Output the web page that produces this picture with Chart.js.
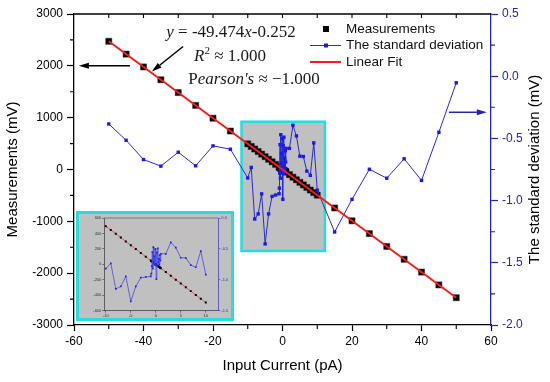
<!DOCTYPE html>
<html>
<head>
<meta charset="utf-8">
<script src="https://cdn.jsdelivr.net/npm/chart.js@4"></script>
<style>
  html, body { margin: 0; padding: 0; background: #fff; }
  #wrap { position: relative; width: 550px; height: 382px; }
  #main { position: absolute; left: 0; top: 0; }
  #inset { position: absolute; left: 76px; top: 211px; width: 158px; height: 110px; box-sizing: border-box; border: 3px solid #22dede; background: #c0c0c0; }
  #insetChart { display: block; }
</style>
</head>
<body>
<div id="wrap">
  <canvas id="main" width="550" height="382"></canvas>
  <div id="inset"><canvas id="insetChart" width="152" height="104"></canvas></div>
</div>
<script>
// input current (pA)
const currentPA = [-50, -45, -40, -35, -30, -25, -20, -15,
  -10, -9, -8, -7, -6, -5, -4, -3, -2, -1,
  -0.9, -0.8, -0.7, -0.6, -0.5, -0.4, -0.3, -0.2, -0.1, 0,
  0.1, 0.2, 0.3, 0.4, 0.5, 0.6, 0.7, 0.8, 0.9,
  1, 2, 3, 4, 5, 6, 7, 8, 9, 10,
  15, 20, 25, 30, 35, 40, 45, 50];

// measurements (mV)
const measurementsMV = [2473.4, 2226.1, 1978.7, 1731.3, 1484.0, 1236.6, 989.2, 741.9,
  494.5, 445.0, 395.5, 346.1, 296.6, 247.1, 197.6, 148.2, 98.7, 49.2,
  44.3, 39.3, 34.4, 29.4, 24.5, 19.5, 14.6, 9.6, 4.7, -0.3,
  -5.2, -10.1, -15.1, -20.0, -25.0, -29.9, -34.9, -39.8, -44.8,
  -49.7, -99.2, -148.7, -198.1, -247.6, -297.1, -346.6, -396.0, -445.5, -495.0,
  -742.4, -989.7, -1237.1, -1484.5, -1731.8, -1979.2, -2226.6, -2473.9];

// standard deviation (mV), right axis
const stdDevMV = [-0.384, -0.515, -0.670, -0.723, -0.611, -0.720, -0.560, -0.587,
  -0.818, -0.733, -1.148, -1.107, -0.946, -1.348, -1.107, -0.966, -0.955, -0.945,
  -0.90, -0.78, -0.55, -0.82, -0.47, -0.70, -0.62, -0.76, -0.50, -0.74,
  -0.99, -0.56, -0.78, -0.49, -0.72, -0.66, -0.75, -0.60, -0.69,
  -0.58, -0.58, -0.395, -0.48, -0.643, -0.646, -0.763, -0.797, -0.536, -0.916,
  -1.252, -0.990, -0.748, -0.820, -0.664, -0.838, -0.451, -0.053];

// linear fit y = -49.474x - 0.252
const fitX = [-50, 50];
const fitY = [2473.4, -2473.9];
const insetFitX = [-10, 10];
const insetFitY = [494.5, -495.0];

// zoomed region marked on the main chart
const zoomBoxX = [-11.8, 12.2];
const zoomBoxY = [922, -1572];

const SANS = "'Liberation Sans', Arial, sans-serif";
const SERIF = "'Liberation Serif', 'Times New Roman', serif";
const BLUE = '#2a2ad2';
const AXIS_BLUE = '#2323b8';
const CYAN = '#22dede';

const pts = (xs, ys) => xs.map((x, i) => ({x: x, y: ys[i]}));
const plain = v => String(v);

function arrow(ctx, x1, y1, x2, y2, color) {
  const ang = Math.atan2(y2 - y1, x2 - x1);
  const hl = 10, hw = 3;
  const bx = x2 - hl * Math.cos(ang), by = y2 - hl * Math.sin(ang);
  ctx.strokeStyle = color;
  ctx.fillStyle = color;
  ctx.lineWidth = 1.5;
  ctx.beginPath();
  ctx.moveTo(x1, y1);
  ctx.lineTo(bx, by);
  ctx.stroke();
  ctx.beginPath();
  ctx.moveTo(x2, y2);
  ctx.lineTo(bx - hw * Math.sin(ang), by + hw * Math.cos(ang));
  ctx.lineTo(bx + hw * Math.sin(ang), by - hw * Math.cos(ang));
  ctx.closePath();
  ctx.fill();
}

// draws pieces of text with different fonts, centred on cx
function textRuns(ctx, parts, cx, cy) {
  let total = 0;
  parts.forEach(p => { ctx.font = p[1]; total += ctx.measureText(p[0]).width; });
  let x = cx - total / 2;
  ctx.textAlign = 'left';
  ctx.textBaseline = 'middle';
  parts.forEach(p => {
    ctx.font = p[1];
    ctx.fillText(p[0], x, cy + (p[2] || 0));
    x += ctx.measureText(p[0]).width;
  });
}

const decor = {
  id: 'decor',
  beforeDatasetsDraw(chart) {
    const {ctx, scales: {x, y}} = chart;
    const l = x.getPixelForValue(zoomBoxX[0]), r = x.getPixelForValue(zoomBoxX[1]);
    const t = y.getPixelForValue(zoomBoxY[0]), b = y.getPixelForValue(zoomBoxY[1]);
    ctx.save();
    ctx.fillStyle = '#c0c0c0';
    ctx.fillRect(l, t, r - l, b - t);
    ctx.strokeStyle = CYAN;
    ctx.lineWidth = 2.5;
    ctx.strokeRect(l, t, r - l, b - t);
    ctx.restore();
  },
  afterDatasetsDraw(chart) {
    const {ctx, chartArea: a, scales: {x, y, y2}} = chart;
    ctx.save();

    // frame top + minor ticks
    ctx.strokeStyle = '#000';
    ctx.lineWidth = 1.3;
    ctx.beginPath();
    ctx.moveTo(a.left, a.top);
    ctx.lineTo(a.right, a.top);
    ctx.stroke();
    ctx.lineWidth = 1.1;
    ctx.beginPath();
    for (let v = -50; v <= 50; v += 10) {
      const px = x.getPixelForValue(v);
      ctx.moveTo(px, a.top);
      ctx.lineTo(px, a.top + 4);
      if (v % 20 !== 0) {
        ctx.moveTo(px, a.bottom);
        ctx.lineTo(px, a.bottom + 4);
      }
    }
    for (let v = -2500; v <= 2500; v += 1000) {
      const py = y.getPixelForValue(v);
      ctx.moveTo(a.left - 4, py);
      ctx.lineTo(a.left, py);
    }
    ctx.stroke();
    ctx.strokeStyle = AXIS_BLUE;
    ctx.beginPath();
    for (let v = -1.75; v <= 0.25; v += 0.5) {
      const py = y2.getPixelForValue(v);
      ctx.moveTo(a.right, py);
      ctx.lineTo(a.right + 4, py);
    }
    ctx.stroke();

    // arrows
    arrow(ctx, x.getPixelForValue(-43.9), y.getPixelForValue(2000), x.getPixelForValue(-58.6), y.getPixelForValue(2000), '#000');
    arrow(ctx, x.getPixelForValue(-28.6), y.getPixelForValue(2373), x.getPixelForValue(-37.6), y.getPixelForValue(1891), '#000');
    arrow(ctx, x.getPixelForValue(47.9), y2.getPixelForValue(-0.29), x.getPixelForValue(58.8), y2.getPixelForValue(-0.29), AXIS_BLUE);

    // fit annotation
    ctx.fillStyle = '#1a1a1a';
    const it = 'italic 17px ' + SERIF, rm = '17px ' + SERIF;
    textRuns(ctx, [['y', it], [' = -49.474', rm], ['x', it], ['-0.252', rm]], a.left + 157, 33);
    textRuns(ctx, [['R', it], ['2', '11px ' + SERIF, -6], [' \u2248 1.000', rm]], a.left + 156, 57);
    textRuns(ctx, [['P', rm], ["earson's", it], [' \u2248 \u22121.000', rm]], a.left + 180, 80);

    // legend
    ctx.font = '13.5px ' + SANS;
    ctx.textAlign = 'left';
    ctx.textBaseline = 'middle';
    ctx.fillStyle = '#000';
    ctx.fillRect(323, 26, 6, 6);
    ctx.fillStyle = '#111';
    ctx.fillText('Measurements', 346, 29);
    ctx.strokeStyle = BLUE;
    ctx.lineWidth = 1;
    ctx.beginPath();
    ctx.moveTo(310, 45.5);
    ctx.lineTo(341, 45.5);
    ctx.stroke();
    ctx.fillStyle = '#1a1aef';
    ctx.fillRect(324, 43.5, 4, 4);
    ctx.fillStyle = '#111';
    ctx.fillText('The standard deviation', 346, 45.5);
    ctx.strokeStyle = '#ff1a1a';
    ctx.lineWidth = 2;
    ctx.beginPath();
    ctx.moveTo(310, 62);
    ctx.lineTo(341, 62);
    ctx.stroke();
    ctx.fillText('Linear Fit', 346, 62);

    // right axis title, reading bottom to top
    ctx.translate(535, (a.top + a.bottom) / 2);
    ctx.rotate(-Math.PI / 2);
    ctx.textAlign = 'center';
    ctx.font = '15px ' + SANS;
    ctx.fillStyle = '#000';
    ctx.fillText('The standard deviation (mV)', 0, 0);
    ctx.restore();
  }
};

new Chart('main', {
  type: 'scatter',
  data: {
    datasets: [
      {
        label: 'Measurements',
        data: pts(currentPA, measurementsMV),
        pointStyle: 'rect',
        pointRadius: 4.3,
        backgroundColor: '#000',
        borderColor: '#222',
        borderWidth: 0.5,
        order: 3,
      },
      {
        label: 'The standard deviation',
        data: pts(currentPA, stdDevMV),
        yAxisID: 'y2',
        showLine: true,
        borderColor: BLUE,
        borderWidth: 1,
        pointStyle: 'rect',
        pointRadius: 2.4,
        pointBackgroundColor: '#1a1aef',
        pointBorderWidth: 0,
        order: 2,
      },
      {
        label: 'Linear Fit',
        data: pts(fitX, fitY),
        showLine: true,
        borderColor: '#ff1a1a',
        borderWidth: 2,
        pointRadius: 0,
        order: 1,
      },
    ],
  },
  options: {
    responsive: false,
    animation: false,
    layout: { padding: { top: 14, left: 0, right: 0, bottom: 0 } },
    plugins: { legend: { display: false }, tooltip: { enabled: false } },
    scales: {
      x: {
        type: 'linear',
        position: 'bottom',
        min: -60,
        max: 60,
        ticks: { stepSize: 20, color: '#000', font: { family: SANS, size: 12 }, padding: 3, maxRotation: 0, callback: plain },
        grid: { drawOnChartArea: false, tickLength: 6, tickWidth: 1.2, color: '#000' },
        border: { color: '#000', width: 1.3 },
        title: { display: true, text: 'Input Current (pA)', color: '#000', font: { family: SANS, size: 15 }, padding: { top: 4, bottom: 7 } },
        afterFit: s => { s.height = 57; },
      },
      y: {
        position: 'left',
        min: -3000,
        max: 3000,
        ticks: { stepSize: 1000, color: '#000', font: { family: SANS, size: 12 }, padding: 4, callback: plain },
        grid: { drawOnChartArea: false, tickLength: 7, tickWidth: 1.2, color: '#000' },
        border: { color: '#000', width: 1.3 },
        title: { display: true, text: 'Measurements (mV)', color: '#000', font: { family: SANS, size: 15 }, padding: { top: 4, bottom: 4 } },
        afterFit: s => { s.width = 74; },
      },
      y2: {
        position: 'right',
        min: -2,
        max: 0.5,
        ticks: { stepSize: 0.5, color: AXIS_BLUE, font: { family: SANS, size: 12 }, padding: 4, callback: v => v.toFixed(1) },
        grid: { drawOnChartArea: false, tickLength: 7, tickWidth: 1.2, color: AXIS_BLUE },
        border: { color: AXIS_BLUE, width: 1.3 },
        afterFit: s => { s.width = 59; },
      },
    },
  },
  plugins: [decor],
});

// inset: the -10..10 pA region
const inner = currentPA.map((x, i) => i).filter(i => Math.abs(currentPA[i]) <= 10);
const insetX = inner.map(i => currentPA[i]);
const insetMeas = inner.map(i => measurementsMV[i]);
const insetStd = inner.map(i => stdDevMV[i]);

const insetFrame = {
  id: 'insetFrame',
  afterDatasetsDraw(chart) {
    const {ctx, chartArea: a} = chart;
    ctx.save();
    ctx.strokeStyle = '#444';
    ctx.lineWidth = 0.6;
    ctx.beginPath();
    ctx.moveTo(a.left, a.top);
    ctx.lineTo(a.right, a.top);
    ctx.stroke();
    ctx.restore();
  }
};

const tinyTicks = (color, step, cb) => ({ stepSize: step, includeBounds: false, color: color, font: { family: SANS, size: 4 }, padding: 1, maxRotation: 0, callback: cb || plain });

new Chart('insetChart', {
  type: 'scatter',
  data: {
    datasets: [
      {
        data: pts(insetX, insetMeas),
        pointStyle: 'rect',
        pointRadius: 1.4,
        backgroundColor: '#000',
        borderWidth: 0,
        order: 2,
      },
      {
        data: pts(insetX, insetStd),
        yAxisID: 'y2',
        showLine: true,
        borderColor: '#4a4ae0',
        borderWidth: 0.8,
        pointStyle: 'rect',
        pointRadius: 1.2,
        pointBackgroundColor: '#2222ee',
        pointBorderWidth: 0,
        order: 1,
      },
      {
        data: pts(insetFitX, insetFitY),
        showLine: true,
        borderColor: '#e83030',
        borderWidth: 0.7,
        pointRadius: 0,
        order: 3,
      },
    ],
  },
  options: {
    responsive: false,
    animation: false,
    layout: { padding: { top: 3, left: 0, right: 0, bottom: 0 } },
    plugins: { legend: { display: false }, tooltip: { enabled: false } },
    scales: {
      x: {
        type: 'linear',
        min: -10.3,
        max: 12.5,
        ticks: tinyTicks('#333', 5),
        grid: { drawOnChartArea: false, tickLength: 2, tickWidth: 0.6, color: '#333' },
        border: { color: '#333', width: 0.7 },
        afterFit: s => { s.height = 7.3; },
      },
      y: {
        min: -600,
        max: 600,
        ticks: tinyTicks('#333', 200),
        grid: { drawOnChartArea: false, tickLength: 2, tickWidth: 0.6, color: '#333' },
        border: { color: '#333', width: 0.7 },
        afterFit: s => { s.width = 25.3; },
      },
      y2: {
        position: 'right',
        min: -1.5,
        max: 0,
        ticks: tinyTicks('#3030c0', 0.5, v => v.toFixed(1)),
        grid: { drawOnChartArea: false, tickLength: 2, tickWidth: 0.6, color: '#3030c0' },
        border: { color: '#3030c0', width: 0.7 },
        afterFit: s => { s.width = 12.7; },
      },
    },
  },
  plugins: [insetFrame],
});
</script>
</body>
</html>
